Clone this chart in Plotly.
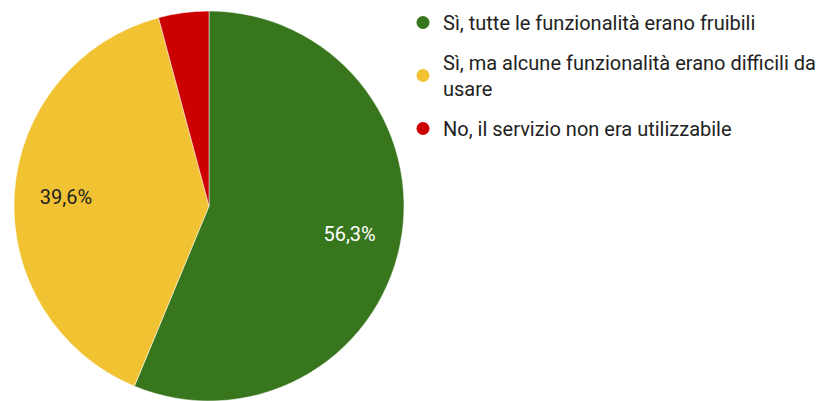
import plotly.graph_objects as go

labels = [
    "Sì, tutte le funzionalità erano fruibili",
    "Sì, ma alcune funzionalità erano difficili da<br>usare",
    "No, il servizio non era utilizzabile",
]
values = [27, 19, 2]
colors = ["#38761d", "#f1c232", "#cc0000"]
label_text = ["56,3%", "39,6%", ""]
text_colors = ["#ffffff", "#222222", "#ffffff"]

# the page body adds an 8px offset, so the figure is sized to the visible area
W, H = 830, 393
dom = dict(x=[6 / W, 396 / W], y=[0, 1])
fig = go.Figure()
# filled pie
fig.add_trace(go.Pie(
    labels=labels, values=values, sort=False, direction="clockwise", rotation=0,
    marker=dict(colors=colors, line=dict(color="white", width=0.5)),
    textinfo="none", showlegend=False, hoverinfo="label+percent",
    domain=dom,
))
# transparent ring carrying the percentage labels further out from the centre
fig.add_trace(go.Pie(
    labels=labels, values=values, sort=False, direction="clockwise", rotation=0,
    hole=0.47,
    marker=dict(colors=["rgba(0,0,0,0)"] * len(values), line=dict(width=0)),
    text=label_text, textinfo="text", textposition="inside",
    insidetextorientation="horizontal",
    insidetextfont=dict(color=text_colors, size=20, family="Roboto"),
    showlegend=False, hoverinfo="skip",
    domain=dom,
))
for i, (lab, col) in enumerate(zip(labels, colors)):
    fig.add_trace(go.Scatter(
        x=[None], y=[None], mode="markers", name=lab, legendgroup=f"g{i}",
        marker=dict(color=col, size=13, symbol="circle"),
    ))
fig.update_layout(
    width=W, height=H, separators=",.",
    margin=dict(l=0, r=0, t=3, b=0, autoexpand=False),
    paper_bgcolor="white", plot_bgcolor="white",
    font=dict(family="Roboto", size=20, color="#222222"),
    xaxis=dict(visible=False, domain=[0.99, 1]), yaxis=dict(visible=False),
    legend=dict(x=395 / W, y=1 + 8 / 390, xanchor="left", yanchor="top",
                traceorder="grouped", tracegroupgap=11,
                font=dict(size=20, color="#222222"), bgcolor="rgba(0,0,0,0)"),
)
fig.write_html("out.html")
